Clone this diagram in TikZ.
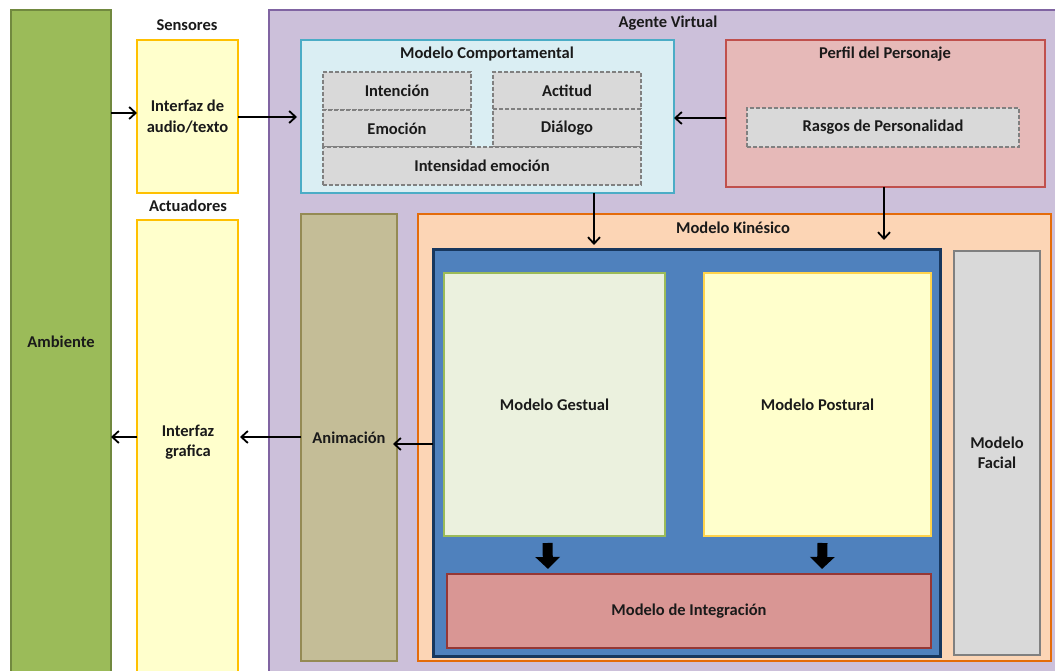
\documentclass[tikz,border=0pt]{standalone}
\usepackage{fontspec}
\setmainfont{Carlito}
\usetikzlibrary{arrows.meta,calc}
\definecolor{envfill}{HTML}{9BBB59}\definecolor{envdraw}{HTML}{71893F}
\definecolor{yelfill}{HTML}{FFFFCC}\definecolor{yeldraw}{HTML}{FFC000}
\definecolor{agfill}{HTML}{CCC0DA}\definecolor{agdraw}{HTML}{8064A2}
\definecolor{cbfill}{HTML}{DAEEF3}\definecolor{cbdraw}{HTML}{4BACC6}
\definecolor{pfill}{HTML}{E6B9B8}\definecolor{pdraw}{HTML}{C0504D}
\definecolor{gfill}{HTML}{D9D9D9}\definecolor{gdraw}{HTML}{808080}
\definecolor{kfill}{HTML}{FCD5B5}\definecolor{kdraw}{HTML}{E46C0A}
\definecolor{afill}{HTML}{C4BD97}\definecolor{adraw}{HTML}{948A54}
\definecolor{bfill}{HTML}{4F81BD}\definecolor{bdraw}{HTML}{17375E}
\definecolor{gefill}{HTML}{EBF1DE}
\definecolor{ifill}{HTML}{D99694}\definecolor{idraw}{HTML}{953735}
\definecolor{txt}{HTML}{1A1A1A}
\begin{document}
\begin{tikzpicture}[x=1pt,y=-1pt,
  font=\bfseries\fontsize{16.5}{20.5}\selectfont, text=txt,
  box/.style={draw, line width=1.5pt, inner sep=0pt, outer sep=0pt, align=center, anchor=north west},
  dbox/.style={box, fill=gfill, draw=gdraw, dash pattern=on 4pt off 2pt, line width=1.4pt},
  ttl/.style={anchor=center, inner sep=0pt, align=center},
  arr/.style={-{Straight Barb[length=6.5pt,width=12pt]}, line width=1.8pt, black},
  bigarr/.style={-{Triangle[length=12pt,width=24pt]}, line width=10pt, black}]
\useasboundingbox (0,0) rectangle (1055,671);
\clip (0,0) rectangle (1055,671);
% Ambiente
\node[box, fill=envfill, draw=envdraw, minimum width=100, minimum height=680] (amb) at (11,10) {};
\node[ttl] (ambt) at (61,342) {Ambiente};
% Sensores
\node[ttl] (sent) at (187,25) {Sensores};
\node[box, fill=yelfill, draw=yeldraw, minimum width=101, minimum height=153] (sen) at (137,40) {Interfaz de\\[1pt]audio/texto};
\node[ttl] (actt) at (188,206) {Actuadores};
\node[box, fill=yelfill, draw=yeldraw, minimum width=101, minimum height=460] (act) at (137,220) {};
\node[ttl] (actx) at (188,442) {Interfaz\\grafica};
% Agente Virtual
\node[box, fill=agfill, draw=agdraw, minimum width=800, minimum height=680] (ag) at (269,10) {};
\node[ttl] (agt) at (668,23) {Agente Virtual};
% Modelo Comportamental
\node[box, fill=cbfill, draw=cbdraw, minimum width=373, minimum height=153] (cb) at (301,40) {};
\node[ttl] (cbt) at (487,54) {Modelo Comportamental};
\node[dbox, minimum width=148, minimum height=38] (int) at (323,72) {Intención};
\node[dbox, minimum width=148, minimum height=37] (emo) at (323,110) {Emoción};
\node[dbox, minimum width=148, minimum height=37] (actd) at (493,72) {Actitud};
\node[dbox, minimum width=148, minimum height=38] (dia) at (493,109) {Diálogo};
\node[dbox, minimum width=318, minimum height=38] (ie) at (323,147) {Intensidad emoción};
% Perfil
\node[box, fill=pfill, draw=pdraw, minimum width=319, minimum height=147] (pp) at (726,40) {};
\node[ttl] (ppt) at (885,54) {Perfil del Personaje};
\node[dbox, minimum width=272, minimum height=39] (rp) at (747,108) {Rasgos de Personalidad};
% Modelo Kinesico
\node[box, fill=kfill, draw=kdraw, minimum width=633, minimum height=447] (mk) at (418,214) {};
\node[ttl] (mkt) at (733,228) {Modelo Kinésico};
% Animacion
\node[box, fill=afill, draw=adraw, minimum width=96, minimum height=447] (an) at (301,214) {Animación};
% Blue box
\node[box, fill=bfill, draw=bdraw, line width=3pt, minimum width=507, minimum height=406] (bb) at (433,250) {};
\node[box, fill=gefill, draw=envfill, line width=1.2pt, minimum width=221, minimum height=263] (ge) at (444,273) {Modelo Gestual};
\node[box, fill=yelfill, draw=yeldraw!70!white, line width=1.2pt, minimum width=227, minimum height=263] (po) at (704,273) {Modelo Postural};
\node[box, fill=ifill, draw=idraw, minimum width=484, minimum height=74] (mi) at (447,574) {Modelo de Integración};
% Facial
\node[box, fill=gfill, draw=gdraw, minimum width=86, minimum height=404] (mf) at (954,251) {Modelo\\Facial};
% Arrows
\draw[arr] (amb.east |- 0,113) -- (sen.west |- 0,113);
\draw[arr] (sen.east |- 0,117) -- ($(cb.west |- 0,117)+(-4,0)$);
\draw[arr] (pp.west |- 0,118) -- (cb.east |- 0,118);
\draw[arr] (cb.south -| 594,0) -- (594,245);
\draw[arr] (pp.south -| 884,0) -- (884,240);
\draw[arr] (bb.west |- 0,444) -- ($(an.east |- 0,444)+(-4,0)$);
\draw[arr] (an.west |- 0,437) -- ($(act.east |- 0,437)+(2,0)$);
\draw[arr] (act.west |- 0,437) -- (amb.east |- 0,437);
% Block arrows
\draw[bigarr] ($(ge.south)+(-7,7)$) -- ($(mi.north -| 548,0)+(0,-5)$);
\draw[bigarr] ($(po.south)+(5,7)$) -- ($(mi.north -| 822,0)+(0,-5)$);
\end{tikzpicture}
\end{document}
